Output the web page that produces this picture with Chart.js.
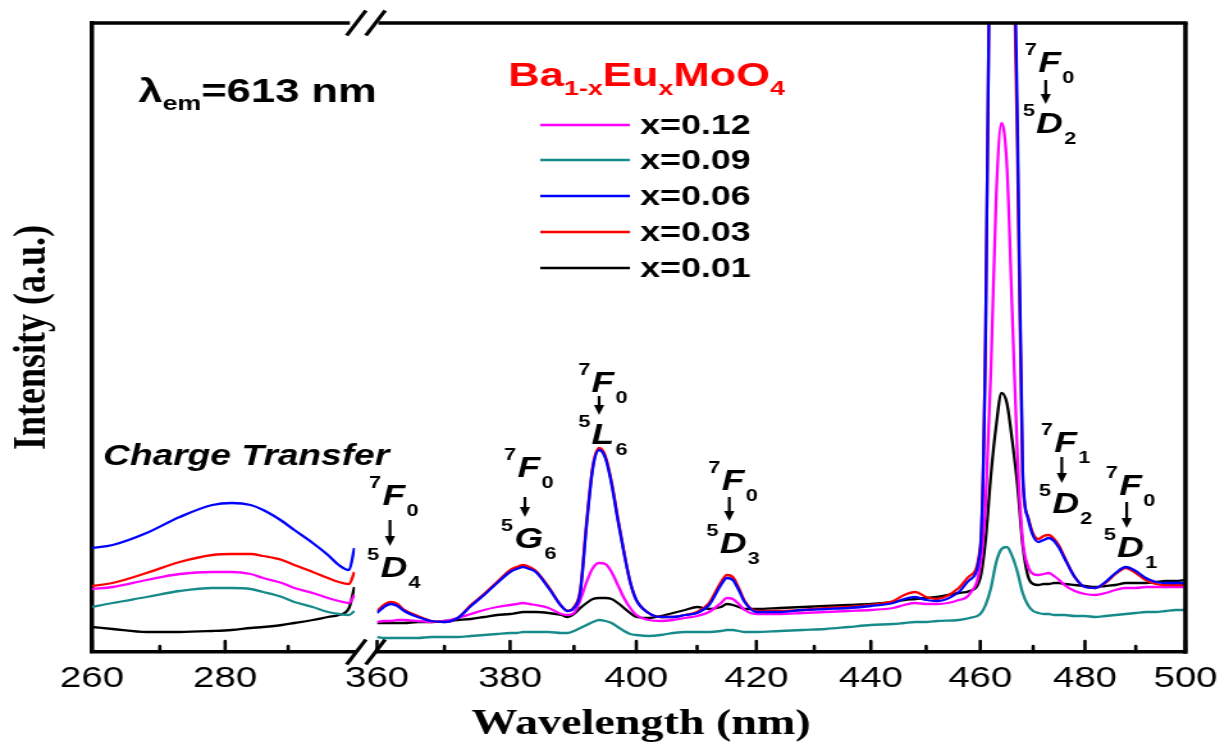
<!DOCTYPE html>
<html>
<head>
<meta charset="utf-8">
<script src="https://cdn.jsdelivr.net/npm/chart.js@4.4.1/dist/chart.umd.min.js"></script>
<style>
  html, body { margin: 0; padding: 0; background: #fff; }
  #wrap { position: relative; width: 1229px; height: 747px; overflow: hidden; }
  #wrap canvas { position: absolute; left: 0; top: 0; }
</style>
</head>
<body>
<div id="wrap">
  <!-- both canvases are drawn 960 wide and stretched to the page width -->
  <canvas id="ctChart" width="960" height="747" style="width:1229px;height:747px"></canvas>
  <canvas id="ffChart" width="960" height="747" style="width:1229px;height:747px"></canvas>
</div>
<script>
var samples = ['x=0.12', 'x=0.09', 'x=0.06', 'x=0.03', 'x=0.01'];
var colors = ['#ff00ff', '#178a8a', '#0000ff', '#ff0000', '#000000'];
var drawOrder = [3, 4, 1, 2, 5];

// charge transfer band, 260-301 nm
var ctWave = [260, 263, 268, 273, 278, 281, 284, 286, 289, 291, 294, 296.5, 298.3, 300, 300.9];
var ctX012 = [63, 65, 72, 78, 80, 80, 78, 74, 69, 64, 59, 54, 51, 49, 57];
var ctX009 = [45, 49, 55, 61, 64, 64, 63, 60, 55, 50, 45, 40, 38, 37, 41];
var ctX006 = [104, 107, 119, 135, 147, 149, 147, 142, 131, 122, 109, 97, 87, 82, 104];
var ctX003 = [66, 69, 79, 90, 97, 98, 98, 96, 92, 87, 80, 74, 70, 68, 80];
var ctX001 = [25, 23, 20, 20, 21, 22, 24, 25, 27, 29, 32, 35, 37, 44, 65];

// Eu3+ f-f lines, 360-500 nm
var ffWave = [360, 361, 362, 363, 364, 366, 368, 370, 372, 374, 376, 378,
  380, 381, 382, 383, 384, 386, 388, 389, 390, 391, 392, 393, 394, 395, 396, 397, 398, 399,
  400, 402, 404, 406, 408, 410, 412, 414, 415, 416, 417, 418,
  420, 424, 428, 432, 436, 440, 444, 446, 448, 450, 452, 456, 458,
  460, 461, 462, 463, 464, 465, 466, 467, 468, 469, 470, 471, 472, 473, 474, 475, 476,
  478, 480, 482, 484, 486, 488, 490, 492, 494, 496, 498, 500];
var ffX012 = [30, 31, 31, 32, 32, 31, 30, 31, 34, 38, 42, 45,
  47, 48, 49, 48, 47, 44, 38, 37, 39, 52, 70, 84, 89, 88, 80, 67, 54, 44,
  37, 32, 31, 32, 34, 36, 40, 49, 54, 53, 48, 42,
  38, 38, 39, 40, 41, 42, 44, 47, 49, 48, 48, 52, 58,
  87, 147, 282, 457, 529, 487, 342, 197, 112, 86, 78, 77, 78, 79, 76, 72, 67,
  61, 58, 57, 59, 62, 64, 64, 65, 65, 65, 65, 65];
var ffX009 = [15, 14, 14, 14, 14, 14, 15, 15, 15, 16, 17, 18,
  19, 19, 20, 20, 20, 20, 19, 19, 21, 24, 27, 30, 32, 31, 29, 25, 21, 18,
  17, 16, 17, 19, 20, 20, 20, 21, 22, 22, 21, 20,
  20, 21, 22, 23, 25, 27, 28, 29, 30, 30, 31, 32, 34,
  38, 47, 64, 90, 103, 105, 96, 80, 59, 47, 41, 39, 38, 38, 37, 37, 37,
  36, 36, 35, 36, 37, 38, 39, 40, 40, 41, 42, 42];
var ffX006 = [39, 45, 48, 46, 41, 35, 31, 30, 34, 46, 57, 69,
  80, 83, 85, 83, 80, 64, 46, 41, 44, 60, 127, 184, 202, 194, 168, 132, 99, 70,
  52, 39, 35, 35, 37, 39, 47, 67, 74, 72, 62, 50,
  40, 40, 42, 43, 44, 46, 49, 53, 55, 52, 51, 60, 72,
  102, 317, 837, 1200, 1450, 1350, 849, 534, 182, 134, 116, 110, 112, 114, 111, 104, 94,
  75, 65, 64, 70, 79, 85, 81, 74, 70, 69, 69, 69];
var ffX003 = [41, 47, 50, 48, 42, 36, 31, 30, 34, 47, 58, 70,
  82, 85, 87, 85, 81, 65, 46, 41, 45, 62, 130, 186, 204, 196, 170, 134, 100, 70,
  52, 39, 35, 35, 37, 40, 49, 70, 77, 75, 64, 51,
  41, 41, 42, 44, 45, 47, 51, 57, 60, 55, 53, 64, 76,
  105, 317, 837, 1180, 1420, 1320, 800, 503, 173, 135, 118, 113, 116, 117, 113, 106, 95,
  75, 65, 64, 69, 78, 84, 79, 72, 68, 67, 67, 67];
var ffX001 = [29, 29, 29, 29, 29, 30, 30, 31, 32, 33, 35, 37,
  38, 39, 40, 40, 40, 39, 37, 35, 38, 44, 49, 53, 54, 54, 53, 49, 44, 39,
  35, 34, 36, 39, 42, 45, 43, 45, 48, 47, 45, 43,
  43, 44, 45, 46, 47, 48, 50, 52, 53, 54, 55, 59, 61,
  74, 112, 177, 227, 259, 249, 212, 167, 107, 76, 68, 67, 68, 68, 69, 69, 68,
  67, 66, 65, 66, 67, 69, 69, 69, 70, 71, 71, 72];

var ctTicks = [260, 280];
var ctMinor = [270, 290];
var ffTicks = [360, 380, 400, 420, 440, 460, 480, 500];
var ffMinor = [370, 390, 410, 430, 450, 470, 490];

var transitions = [
  { nm: 361.9, from: ['7', 'F', '0'], to: ['5', 'D', '4'] },
  { nm: 382.3, from: ['7', 'F', '0'], to: ['5', 'G', '6'] },
  { nm: 394.0, from: ['7', 'F', '0'], to: ['5', 'L', '6'] },
  { nm: 415.4, from: ['7', 'F', '0'], to: ['5', 'D', '3'] },
  { nm: 472.4, from: ['7', 'F', '0'], to: ['5', 'D', '2'] },
  { nm: 475.5, from: ['7', 'F', '1'], to: ['5', 'D', '2'] },
  { nm: 488.2, from: ['7', 'F', '0'], to: ['5', 'D', '1'] }
];
// vertical placement of each label: upper baseline, arrow start/tip, lower baseline
var transitionRows = [
  [505, 520, 546, 577],
  [477, 497, 517, 548],
  [392, 396, 415, 444],
  [490, 497, 521, 553],
  [72, 80, 104, 133],
  [452, 457, 483, 513],
  [495, 502, 528, 557]
];

var SANS = "'Liberation Sans', Arial, sans-serif";
var SERIF = "'Liberation Serif', 'Times New Roman', serif";
Chart.defaults.font.family = SANS;
Chart.defaults.color = '#000';

function makeDatasets(wave, series) {
  return samples.map(function(name, i) {
    return {
      label: name,
      data: wave.map(function(w, k) { return { x: w, y: series[i][k] }; }),
      borderColor: colors[i],
      backgroundColor: colors[i],
      borderWidth: 2.3,
      pointRadius: 0,
      cubicInterpolationMode: 'monotone',
      order: drawOrder[i]
    };
  });
}

function line(ctx, x1, y1, x2, y2) {
  ctx.beginPath();
  ctx.moveTo(x1, y1);
  ctx.lineTo(x2, y2);
  ctx.stroke();
}

function inwardTicks(chart, majors, minors) {
  var ctx = chart.ctx, xs = chart.scales.x, b = chart.chartArea.bottom;
  ctx.save();
  ctx.strokeStyle = '#000';
  ctx.lineWidth = 2.6;
  ctx.lineCap = 'round';
  majors.forEach(function(v) { var p = xs.getPixelForValue(v); line(ctx, p, b, p, b - 11); });
  minors.forEach(function(v) { var p = xs.getPixelForValue(v); line(ctx, p, b, p, b - 6); });
  ctx.restore();
}

function term(ctx, cx, y, parts) {
  ctx.font = 'italic bold 29px ' + SANS;
  var w = ctx.measureText(parts[1]).width;
  var x = cx - w / 2;
  ctx.textAlign = 'left';
  ctx.fillText(parts[1], x, y);
  ctx.font = 'bold 17px ' + SANS;
  ctx.textAlign = 'right';
  ctx.fillText(parts[0], x - 1, y - 17);
  ctx.textAlign = 'left';
  ctx.fillText(parts[2], x + w + 1, y + 11);
}

function arrow(ctx, x, y1, y2) {
  ctx.lineWidth = 2.2;
  line(ctx, x, y1, x, y2 - 8);
  ctx.beginPath();
  ctx.moveTo(x - 4, y2 - 10);
  ctx.lineTo(x + 4, y2 - 10);
  ctx.lineTo(x, y2);
  ctx.closePath();
  ctx.fill();
}

function rich(ctx, x, y, parts) {
  ctx.textAlign = 'left';
  parts.forEach(function(p) {
    ctx.font = p[1];
    ctx.fillText(p[0], x, y + (p[2] || 0));
    x += ctx.measureText(p[0]).width;
  });
}

function breakMarks(ctx, xs, ys) {
  xs.forEach(function(x) {
    ys.forEach(function(y) { line(ctx, x - 7.5, y + 12.5, x + 7.5, y - 12.5); });
  });
}

var ctDecor = {
  id: 'ctDecor',
  afterDraw: function(chart) {
    var ctx = chart.ctx, a = chart.chartArea;
    inwardTicks(chart, ctTicks, ctMinor);
    ctx.save();
    ctx.strokeStyle = '#000';
    ctx.fillStyle = '#000';
    ctx.lineWidth = 3.5;
    line(ctx, a.left - 1.7, a.top, a.right - 4, a.top);
    ctx.lineWidth = 3.2;
    breakMarks(ctx, [a.right + 1, a.right + 16], [a.top, a.bottom]);

    rich(ctx, 108, 102, [
      ['\u03bb', 'bold 34px ' + SANS],
      ['em', 'bold 21px ' + SANS, 8],
      ['=613 nm', 'bold 34px ' + SANS]
    ]);
    ctx.font = 'italic bold 29px ' + SANS;
    ctx.fillText('Charge Transfer', 80.5, 465);

    ctx.font = 'bold 36px ' + SERIF;
    ctx.textAlign = 'center';
    ctx.fillText('Wavelength (nm)', 500.7, 734);
    ctx.restore();
  }
};

var ffDecor = {
  id: 'ffDecor',
  afterDraw: function(chart) {
    var ctx = chart.ctx, a = chart.chartArea, xs = chart.scales.x;
    inwardTicks(chart, ffTicks, ffMinor);
    ctx.save();
    ctx.strokeStyle = '#000';
    ctx.fillStyle = '#000';
    ctx.lineWidth = 3.5;
    line(ctx, a.left + 1, a.top, a.right + 1.7, a.top);
    line(ctx, a.right, a.top, a.right, a.bottom + 1.7);

    transitions.forEach(function(t, i) {
      var r = transitionRows[i], x = xs.getPixelForValue(t.nm);
      term(ctx, x + 3, r[0], t.from);
      arrow(ctx, x, r[1], r[2]);
      term(ctx, x + 3, r[3], t.to);
    });

    ctx.fillStyle = '#ff0000';
    rich(ctx, 397, 86, [
      ['Ba', 'bold 34px ' + SANS],
      ['1-x', 'bold 21px ' + SANS, 9],
      ['Eu', 'bold 34px ' + SANS],
      ['x', 'bold 21px ' + SANS, 9],
      ['MoO', 'bold 34px ' + SANS],
      ['4', 'bold 21px ' + SANS, 9]
    ]);

    var rows = [125, 160, 196, 232, 268];
    ctx.textBaseline = 'middle';
    ctx.font = 'bold 28px ' + SANS;
    chart.data.datasets.forEach(function(ds, i) {
      ctx.strokeStyle = ds.borderColor;
      ctx.lineWidth = 2.5;
      line(ctx, 422, rows[i], 492, rows[i]);
      ctx.fillStyle = '#000';
      ctx.textAlign = 'left';
      ctx.fillText(ds.label, 500, rows[i] + 1);
    });
    ctx.restore();
  }
};

function xAxis(min, max, majors) {
  return {
    type: 'logarithmic',
    min: min,
    max: max,
    bounds: 'data',
    afterBuildTicks: function(scale) {
      scale.ticks = majors.map(function(v) { return { value: v }; });
    },
    afterFit: function(scale) { scale.height = 95; },
    grid: { display: false, drawTicks: false },
    border: { display: true, color: '#000', width: 3.5 },
    ticks: {
      autoSkip: false,
      maxRotation: 0,
      padding: 9,
      color: '#000',
      font: { size: 30 },
      callback: function(v) { return String(v); }
    }
  };
}

function baseOptions(padding, xScale, yScale) {
  return {
    responsive: false,
    devicePixelRatio: 1,
    animation: false,
    events: [],
    layout: { padding: padding },
    plugins: { legend: { display: false }, tooltip: { enabled: false } },
    scales: { x: xScale, y: yScale }
  };
}

new Chart(document.getElementById('ctChart'), {
  type: 'line',
  data: { datasets: makeDatasets(ctWave, [ctX012, ctX009, ctX006, ctX003, ctX001]) },
  options: baseOptions({ top: 23, left: 0, right: 960 - 277.3, bottom: 0 },
    xAxis(260, 301, ctTicks),
    {
      min: 0,
      max: 629,
      afterFit: function(scale) { scale.width = 71.9; },
      grid: { display: false, drawTicks: false },
      border: { display: true, color: '#000', width: 3.5 },
      ticks: { display: false },
      title: {
        display: true,
        text: 'Intensity (a.u.)',
        color: '#000',
        font: { family: SERIF, size: 36, weight: 'bold' }
      }
    }),
  plugins: [ctDecor]
});

new Chart(document.getElementById('ffChart'), {
  type: 'line',
  data: { datasets: makeDatasets(ffWave, [ffX012, ffX009, ffX006, ffX003, ffX001]) },
  options: baseOptions({ top: 23, left: 294.5, right: 960 - 927.3, bottom: 0 },
    xAxis(360, 500, ffTicks),
    { display: false, min: 0, max: 629 }),
  plugins: [ffDecor]
});
</script>
</body>
</html>
